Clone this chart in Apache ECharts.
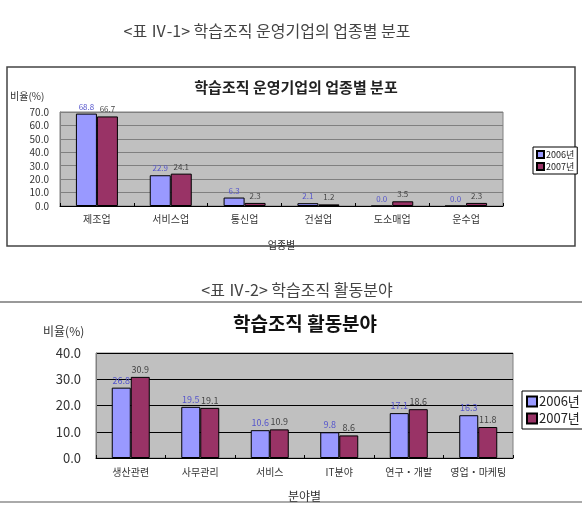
<!DOCTYPE html>
<html>
<head>
<meta charset="utf-8">
<script src="https://cdn.jsdelivr.net/npm/echarts@6/dist/echarts.min.js"></script>
<style>
  html, body { margin: 0; padding: 0; background: #fff; }
  #main { width: 582px; height: 507px; }
</style>
</head>
<body>
<div id="main"></div>
<script>
// 표 IV-1 업종별 분포
const industries = ['제조업', '서비스업', '통신업', '건설업', '도소매업', '운수업']
const ind2006 = [68.8, 22.9, 6.3, 2.1, 0.0, 0.0]
const ind2007 = [66.7, 24.1, 2.3, 1.2, 3.5, 2.3]
const indTicks = [0, 10, 20, 30, 40, 50, 60, 70]

// 표 IV-2 활동분야
const fields = ['생산관련', '사무관리', '서비스', 'IT분야', '연구・개발', '영업・마케팅']
const field2006 = [26.8, 19.5, 10.6, 9.8, 17.1, 16.3]
const field2007 = [30.9, 19.1, 10.9, 8.6, 18.6, 11.8]
const fieldTicks = [0, 10, 20, 30, 40]

const years = ['2006년', '2007년']
const font = '"Noto Sans CJK KR", "Noto Sans", sans-serif'
const c2006 = '#9999FF'
const c2007 = '#993366'

let chart = echarts.init(document.getElementById('main'))

function barSeries(name, data, color, labelColor, idx, fs) {
  return {
    name: name,
    type: 'bar',
    xAxisIndex: idx,
    yAxisIndex: idx,
    data: data,
    barWidth: idx === 0 ? 21 : 19,
    barGap: '0%',
    itemStyle: { color: color, borderColor: '#000', borderWidth: 1 },
    label: {
      show: true,
      position: 'top',
      distance: 3,
      color: labelColor,
      fontSize: fs,
      fontFamily: font,
      formatter: p => p.value.toFixed(1)
    }
  }
}

let option = {
  animation: false,
  textStyle: { fontFamily: font },
  title: [
    {
      text: '<표 Ⅳ-1> 학습조직 운영기업의 업종별 분포',
      left: 262, top: 18, textAlign: 'center',
      textStyle: { fontSize: 16, fontWeight: 'normal', color: '#444', fontFamily: font }
    },
    {
      text: '학습조직 운영기업의 업종별 분포',
      left: 291, top: 75, textAlign: 'center',
      textStyle: { fontSize: 15, fontWeight: 'bold', color: '#222', fontFamily: font }
    },
    {
      text: '<표 Ⅳ-2> 학습조직 활동분야',
      left: 292, top: 277, textAlign: 'center',
      textStyle: { fontSize: 16, fontWeight: 'normal', color: '#444', fontFamily: font }
    },
    {
      text: '학습조직 활동분야',
      left: 300, top: 309, textAlign: 'center',
      textStyle: { fontSize: 19, fontWeight: 'bold', color: '#111', fontFamily: font }
    }
  ],
  graphic: [
    { type: 'rect', shape: { x: 7, y: 67, width: 568, height: 179 },
      style: { fill: 'none', stroke: '#444', lineWidth: 1.5 }, silent: true },
    { type: 'line', shape: { x1: 0, y1: 302, x2: 582, y2: 302 },
      style: { stroke: '#999', lineWidth: 2 }, silent: true },
    { type: 'line', shape: { x1: 0, y1: 502, x2: 582, y2: 502 },
      style: { stroke: '#aaa', lineWidth: 2 }, silent: true },
    { type: 'text', left: 10, top: 91,
      style: { text: '비율(%)', fontSize: 10, fill: '#333', fontFamily: font } },
    { type: 'text', left: 43, top: 325,
      style: { text: '비율(%)', fontSize: 12, fill: '#333', fontFamily: font } }
  ],
  legend: [
    {
      data: years, orient: 'vertical', left: 533, top: 147,
      padding: [3, 3, 3, 3], itemGap: 3, itemWidth: 7, itemHeight: 7,
      icon: 'rect', borderColor: '#000', borderWidth: 1, backgroundColor: '#fff',
      textStyle: { fontSize: 9, color: '#222', padding: [0, 0, 0, -3] }
    },
    {
      data: years, orient: 'vertical', left: 522, top: 391,
      padding: [4, 4, 4, 4], itemGap: 4, itemWidth: 10, itemHeight: 10,
      icon: 'rect', borderColor: '#000', borderWidth: 1, backgroundColor: '#fff',
      textStyle: { fontSize: 13, color: '#222', padding: [0, 0, 0, -3] }
    }
  ],
  grid: [
    { left: 60, top: 112, width: 443, height: 94, show: true,
      backgroundColor: '#C0C0C0', borderColor: '#808080', borderWidth: 1 },
    { left: 96, top: 353, width: 417, height: 105, show: true,
      backgroundColor: '#C0C0C0', borderColor: '#808080', borderWidth: 1 }
  ],
  xAxis: [
    {
      type: 'category', gridIndex: 0, data: industries,
      name: '업종별', nameLocation: 'middle', nameGap: 34,
      nameTextStyle: { fontSize: 10, color: '#333' },
      axisLine: { lineStyle: { color: '#000' } },
      axisTick: { show: true, inside: true, length: 3, lineStyle: { color: '#000' } },
      axisLabel: { interval: 0, fontSize: 10, color: '#333', margin: 8 }
    },
    {
      type: 'category', gridIndex: 1, data: fields,
      name: '분야별', nameLocation: 'middle', nameGap: 32,
      nameTextStyle: { fontSize: 12, color: '#333' },
      axisLine: { lineStyle: { color: '#000' } },
      axisTick: { show: true, inside: true, length: 3, lineStyle: { color: '#000' } },
      axisLabel: { interval: 0, fontSize: 10, color: '#333', margin: 9 }
    }
  ],
  yAxis: [
    {
      type: 'value', gridIndex: 0, min: indTicks[0], max: indTicks[indTicks.length - 1], interval: 10,
      axisLine: { show: true, lineStyle: { color: '#808080' } },
      axisTick: { show: false },
      splitLine: { lineStyle: { color: '#808080', width: 1 } },
      axisLabel: { fontSize: 10, color: '#333', margin: 11, formatter: v => v.toFixed(1) }
    },
    {
      type: 'value', gridIndex: 1, min: fieldTicks[0], max: fieldTicks[fieldTicks.length - 1], interval: 10,
      axisLine: { show: true, lineStyle: { color: '#808080' } },
      axisTick: { show: false },
      splitLine: { lineStyle: { color: '#000', width: 1 } },
      axisLabel: { fontSize: 13, color: '#333', margin: 15, formatter: v => v.toFixed(1) }
    }
  ],
  series: [
    barSeries(years[0], ind2006, c2006, '#5555CC', 0, 8),
    barSeries(years[1], ind2007, c2007, '#444', 0, 8),
    barSeries(years[0], field2006, c2006, '#5555CC', 1, 9),
    barSeries(years[1], field2007, c2007, '#444', 1, 9)
  ]
}

chart.setOption(option)
</script>
</body>
</html>
